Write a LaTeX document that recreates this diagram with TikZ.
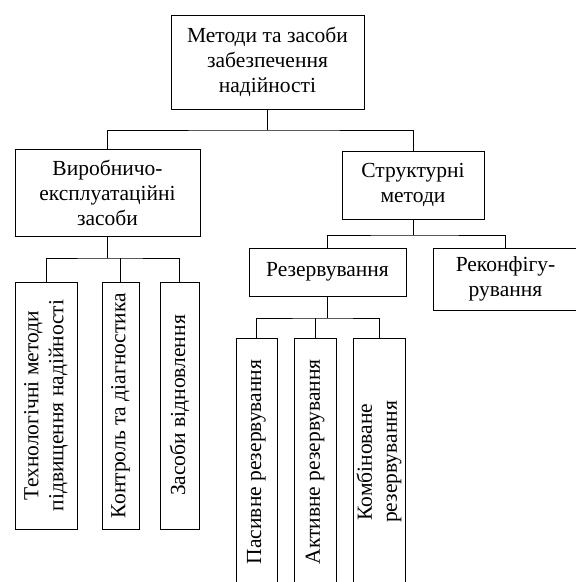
\documentclass[tikz,border=0pt]{standalone}
\usepackage{fontspec}
\setmainfont{Liberation Serif}
\begin{document}
\begin{tikzpicture}[x=1pt,y=-1pt,
  box/.style={draw=black, line width=0.8pt, inner sep=0pt, align=center, font=\fontsize{21.5}{25}\selectfont},
  link/.style={draw=black, line width=0.8pt}]
\useasboundingbox (0,0) rectangle (576,582);
\clip (0,0) rectangle (576,582);
% level 0
\node[box, minimum width=193pt, minimum height=94pt] (top) at (267.5,62) {Методи та засоби\\забезпечення\\надійності};
% level 1
\node[box, minimum width=185pt, minimum height=87pt] (vir) at (107.5,192.5) {Виробничо-\\експлуатаційні\\засоби};
\node[box, minimum width=142pt, minimum height=68pt] (str) at (413,185) {Структурні\\методи};
% level 2
\node[box, minimum width=157pt, minimum height=48pt] (rez) at (327.5,272) {Резервування};
\node[box, minimum width=145pt, minimum height=62pt] (rec) at (505.5,279) {Реконфігу-\\рування};
% rotated leaves left
\node[box, rotate=90, minimum width=247pt, minimum height=62pt] (t1) at (46,405.5) {Технологічні методи\\підвищення надійності};
\node[box, rotate=90, minimum width=247pt, minimum height=37pt] (t2) at (120.5,405.5) {Контроль та діагностика};
\node[box, rotate=90, minimum width=247pt, minimum height=39pt] (t3) at (179.5,405.5) {Засоби відновлення};
% rotated leaves right
\node[box, rotate=90, minimum width=248pt, minimum height=41pt] (p1) at (256.5,462) {Пасивне резервування};
\node[box, rotate=90, minimum width=248pt, minimum height=42pt] (p2) at (315,462) {Активне резервування};
\node[box, rotate=90, minimum width=248pt, minimum height=52pt] (p3) at (379,462) {Комбіноване\\резервування};
% bus coordinates
\coordinate (b1) at (267.5,130);
\coordinate (b2) at (107.5,258);
\coordinate (b3) at (413,235);
\coordinate (b4) at (327.5,318);
% connectors
\draw[link] (top.south) -- (b1);
\draw[link] (vir.north) |- (b1) -| (str.north);
\draw[link] (vir.south) -- (b2);
\draw[link] (t1.east) |- (b2) -| (t3.east);
\draw[link] (t2.east) -- (t2.east |- b2);
\draw[link] (str.south) -- (b3);
\draw[link] (rez.north) |- (b3) -| (rec.north);
\draw[link] (rez.south) -- (b4);
\draw[link] (p1.east) |- (b4) -| (p3.east);
\draw[link] (p2.east) -- (p2.east |- b4);
\end{tikzpicture}
\end{document}
